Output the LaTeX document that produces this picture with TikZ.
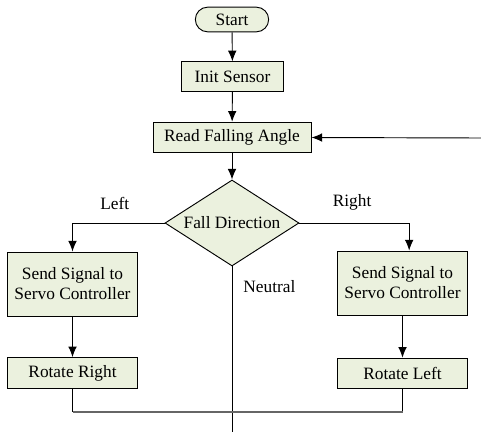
\documentclass[tikz,border=0pt]{standalone}
\usepackage{fontspec}
\setmainfont{Liberation Serif}
\usetikzlibrary{shapes.geometric,shapes.misc,arrows.meta}

\definecolor{boxfill}{RGB}{235,241,222}
\tikzset{
  every node/.style={font=\fontsize{13}{15}\selectfont},
  box/.style={draw,fill=boxfill,line width=0.7pt,inner sep=0pt,align=center,minimum height=23pt},
  flow/.style={-{Latex[length=8pt,width=6.5pt]},line width=0.7pt},
}

\begin{document}
\begin{tikzpicture}[x=0.75pt,y=-0.75pt]
  \useasboundingbox (0,0) rectangle (481,432);

  \node[box,rounded rectangle,minimum width=55pt,minimum height=18.5pt] (start) at (232,19.5) {Start};
  \node[box,minimum width=76pt,minimum height=22pt] (init) at (232.5,76.5) {Init Sensor};
  \node[box,minimum width=118.5pt] (read) at (232,137.5) {Read Falling Angle};
  \node[box,diamond,aspect=1.56,minimum width=100.5pt,minimum height=64.5pt] (fall) at (232,223) {Fall Direction};
  \node[box,minimum width=97pt,minimum height=48pt] (sendl) at (72.5,284) {Send Signal to\\Servo Controller};
  \node[box,minimum width=97pt,minimum height=48pt] (sendr) at (402.5,283) {Send Signal to\\Servo Controller};
  \node[box,minimum width=97pt] (rotr) at (72.5,373) {Rotate Right};
  \node[box,minimum width=97pt] (rotl) at (402.5,373.5) {Rotate Left};

  \coordinate (loop) at (481,138);
  \coordinate (merge) at (232,412);
  \coordinate (out) at (232,432);

  % main path
  \draw[flow] (start) -- (init);
  \draw[flow] (init) -- (read);
  \draw[flow] (read) -- (fall);
  \draw[flow] (loop) -- (read.east);

  % branches
  \draw[flow] (fall.west) -| (sendl.north) node[pos=0.27,above=6pt] {Left};
  \draw[flow] (fall.east) -| ([xshift=5pt]sendr.north) node[pos=0.24,above=6pt] {Right};
  \draw (fall.south) -- (out) node[pos=0.12,right=5pt] {Neutral};
  \draw[flow] (sendl) -- (rotr);
  \draw[flow] (sendr) -- (rotl);

  % join
  \draw[line width=0.7pt] (rotr.south) -- (rotr.south |- merge);
  \draw[line width=0.7pt] (rotl.south) -- (rotl.south |- merge);
  \draw[black!60,line width=0.9pt] (rotr.south |- merge) -- (rotl.south |- merge);
\end{tikzpicture}
\end{document}
